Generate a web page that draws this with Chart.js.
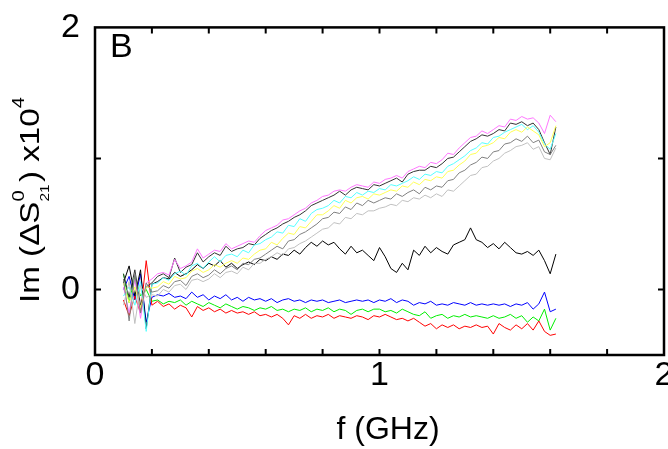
<!DOCTYPE html>
<html>
<head>
<meta charset="utf-8">
<script src="https://cdn.jsdelivr.net/npm/chart.js@4/dist/chart.umd.min.js"></script>
<style>
  html, body { margin: 0; padding: 0; background: #fff; overflow: hidden; }
  #wrap { width: 680px; height: 449px; }
</style>
</head>
<body>
<div id="wrap"><canvas id="chart" width="680" height="449"></canvas></div>
<script>
// frequency axis (GHz)
const freq = [0.10,0.12,0.14,0.16,0.18,0.20,0.22,0.24,0.26,0.28,0.30,0.32,0.34,0.36,0.38,0.40,0.42,0.44,0.46,0.48,
  0.50,0.52,0.54,0.56,0.58,0.60,0.62,0.64,0.66,0.68,0.70,0.72,0.74,0.76,0.78,0.80,0.82,0.84,0.86,0.88,
  0.90,0.92,0.94,0.96,0.98,1.00,1.02,1.04,1.06,1.08,1.10,1.12,1.14,1.16,1.18,1.20,1.22,1.24,1.26,1.28,
  1.30,1.32,1.34,1.36,1.38,1.40,1.42,1.44,1.46,1.48,1.50,1.52,1.54,1.56,1.58,1.60,1.62];

// Im(dS21) x1e4 for each trace
const magenta = [0.02,-0.18,0.08,-0.22,0.05,
  0.08,0.12,0.13,0.11,0.23,0.16,0.18,0.21,0.31,0.24,
  0.27,0.30,0.29,0.35,0.31,0.33,0.35,0.37,0.36,0.41,
  0.45,0.47,0.49,0.53,0.54,0.57,0.60,0.62,0.66,0.68,
  0.71,0.72,0.75,0.76,0.75,0.78,0.80,0.79,0.78,0.82,
  0.81,0.84,0.85,0.87,0.85,0.90,0.92,0.94,0.93,0.97,
  0.96,0.99,1.04,1.03,1.08,1.12,1.16,1.17,1.21,1.19,
  1.22,1.25,1.24,1.30,1.29,1.32,1.30,1.31,1.27,1.19,
  1.33,1.28];
const darkTrace = [0.12,-0.06,0.15,-0.12,0.02,
  0.05,0.10,0.12,0.09,0.24,0.13,0.17,0.19,0.28,0.21,
  0.25,0.28,0.26,0.33,0.29,0.31,0.32,0.35,0.34,0.39,
  0.42,0.45,0.47,0.50,0.52,0.55,0.57,0.60,0.64,0.66,
  0.68,0.70,0.72,0.75,0.72,0.76,0.78,0.77,0.76,0.80,
  0.79,0.81,0.83,0.85,0.82,0.88,0.90,0.91,0.91,0.94,
  0.93,0.96,1.00,1.01,1.05,1.09,1.13,1.15,1.18,1.17,
  1.19,1.22,1.21,1.27,1.26,1.28,1.25,1.27,1.22,1.12,
  1.03,1.24];
const cyan = [-0.05,0.02,-0.12,0.06,-0.32,
  0.04,0.05,0.09,0.07,0.12,0.14,0.11,0.18,0.20,0.16,
  0.21,0.25,0.21,0.26,0.27,0.25,0.30,0.28,0.34,0.35,
  0.38,0.40,0.44,0.43,0.49,0.48,0.54,0.52,0.58,0.61,
  0.62,0.64,0.68,0.66,0.71,0.70,0.74,0.72,0.75,0.74,
  0.77,0.76,0.80,0.79,0.81,0.83,0.86,0.84,0.88,0.87,
  0.90,0.89,0.94,0.96,0.99,1.02,1.06,1.08,1.12,1.11,
  1.16,1.17,1.20,1.22,1.24,1.26,1.22,1.25,1.20,1.11,
  1.07,1.19];
const yellow = [0.05,-0.10,0.02,-0.14,0.02,
  0.01,0.02,0.06,0.04,0.10,0.08,0.09,0.14,0.16,0.13,
  0.15,0.19,0.17,0.20,0.22,0.20,0.24,0.23,0.27,0.30,
  0.31,0.36,0.34,0.39,0.43,0.42,0.48,0.47,0.52,0.57,
  0.57,0.60,0.64,0.62,0.68,0.66,0.70,0.71,0.69,0.73,
  0.72,0.74,0.76,0.75,0.79,0.78,0.82,0.80,0.84,0.83,
  0.86,0.85,0.90,0.91,0.95,0.98,1.03,1.04,1.09,1.10,
  1.12,1.16,1.15,1.20,1.22,1.20,1.24,1.21,1.18,1.09,
  1.12,1.25];
const gray = [0.08,-0.24,0.12,-0.18,0.05,
  -0.02,-0.01,0.03,0.01,0.06,0.07,0.03,0.10,0.12,0.09,
  0.11,0.15,0.12,0.16,0.18,0.15,0.20,0.19,0.23,0.24,
  0.27,0.30,0.33,0.31,0.37,0.38,0.42,0.44,0.47,0.50,
  0.54,0.55,0.59,0.58,0.63,0.61,0.66,0.64,0.68,0.66,
  0.68,0.70,0.69,0.73,0.71,0.74,0.76,0.73,0.78,0.76,
  0.79,0.78,0.83,0.84,0.89,0.91,0.95,0.97,1.01,1.00,
  1.05,1.06,1.11,1.12,1.15,1.13,1.17,1.12,1.14,1.05,
  1.03,1.10];
const lightGray = [-0.12,0.06,-0.26,0.03,-0.06,
  -0.04,-0.05,0.00,-0.02,0.03,0.04,0.00,0.07,0.08,0.06,
  0.08,0.12,0.09,0.13,0.14,0.12,0.17,0.15,0.20,0.20,
  0.23,0.25,0.28,0.26,0.31,0.32,0.35,0.37,0.40,0.43,
  0.46,0.47,0.51,0.50,0.55,0.54,0.58,0.57,0.60,0.60,
  0.62,0.63,0.65,0.64,0.68,0.67,0.70,0.69,0.72,0.70,
  0.73,0.71,0.76,0.75,0.79,0.83,0.87,0.88,0.93,0.94,
  0.98,1.00,1.04,1.06,1.09,1.10,1.12,1.07,1.09,1.00,
  0.99,1.08];
const black = [0.05,0.18,-0.05,0.15,-0.30,
  0.04,0.06,0.09,0.08,0.13,0.10,0.12,0.15,0.19,0.16,
  0.20,0.18,0.22,0.17,0.20,0.16,0.19,0.21,0.19,0.23,
  0.22,0.25,0.23,0.27,0.26,0.30,0.27,0.32,0.36,0.33,
  0.37,0.34,0.36,0.31,0.27,0.33,0.28,0.30,0.26,0.22,
  0.32,0.25,0.16,0.13,0.20,0.15,0.30,0.26,0.33,0.28,
  0.32,0.29,0.27,0.34,0.36,0.38,0.47,0.38,0.36,0.32,
  0.35,0.31,0.36,0.32,0.28,0.27,0.29,0.26,0.30,0.22,
  0.12,0.27];
const blue = [0.00,0.10,-0.08,0.12,-0.25,
  -0.06,-0.04,-0.05,-0.03,-0.06,-0.05,-0.07,-0.02,-0.06,-0.04,
  -0.08,-0.05,-0.07,-0.04,-0.08,-0.06,-0.09,-0.06,-0.08,-0.07,
  -0.09,-0.07,-0.10,-0.08,-0.07,-0.09,-0.08,-0.10,-0.08,-0.09,
  -0.08,-0.10,-0.09,-0.08,-0.10,-0.09,-0.08,-0.09,-0.08,-0.10,
  -0.08,-0.09,-0.07,-0.10,-0.08,-0.09,-0.12,-0.10,-0.11,-0.09,
  -0.12,-0.11,-0.12,-0.10,-0.11,-0.12,-0.10,-0.12,-0.11,-0.12,
  -0.11,-0.12,-0.11,-0.13,-0.11,-0.12,-0.10,-0.15,-0.11,-0.02,
  -0.17,-0.15];
const green = [0.12,-0.10,0.10,-0.05,0.00,
  -0.09,-0.08,-0.11,-0.09,-0.10,-0.08,-0.12,-0.09,-0.11,-0.13,
  -0.10,-0.12,-0.14,-0.11,-0.13,-0.15,-0.13,-0.14,-0.16,-0.14,
  -0.15,-0.13,-0.16,-0.15,-0.17,-0.15,-0.16,-0.14,-0.17,-0.15,
  -0.16,-0.14,-0.17,-0.15,-0.16,-0.19,-0.16,-0.15,-0.17,-0.15,
  -0.15,-0.17,-0.16,-0.18,-0.15,-0.17,-0.19,-0.20,-0.17,-0.22,
  -0.20,-0.19,-0.22,-0.20,-0.21,-0.19,-0.21,-0.20,-0.21,-0.22,
  -0.20,-0.22,-0.21,-0.19,-0.22,-0.20,-0.25,-0.21,-0.24,-0.15,
  -0.31,-0.22];
const red = [-0.08,-0.20,-0.05,-0.18,0.22,
  -0.12,-0.09,-0.13,-0.11,-0.15,-0.12,-0.14,-0.21,-0.13,-0.16,
  -0.14,-0.17,-0.15,-0.18,-0.16,-0.18,-0.17,-0.19,-0.17,-0.20,
  -0.19,-0.21,-0.19,-0.22,-0.27,-0.20,-0.22,-0.19,-0.22,-0.20,
  -0.21,-0.19,-0.22,-0.20,-0.21,-0.22,-0.20,-0.21,-0.23,-0.20,
  -0.21,-0.19,-0.21,-0.23,-0.22,-0.24,-0.22,-0.25,-0.28,-0.26,
  -0.30,-0.27,-0.29,-0.27,-0.30,-0.28,-0.29,-0.27,-0.29,-0.28,
  -0.34,-0.26,-0.29,-0.31,-0.27,-0.30,-0.26,-0.31,-0.24,-0.32,
  -0.35,-0.34];

const xTickLabels = ['0', '1', '2'];
const yTickLabels = ['0', '2'];

const FONT = '"Liberation Sans", Arial, sans-serif';

function series(values, color, width) {
    return {
        data: freq.map((f, i) => ({ x: f, y: values[i] })),
        borderColor: color,
        borderWidth: width || 1,
        pointRadius: 0,
        tension: 0,
        fill: false
    };
}

// 外框、內向刻度、標題
const framePlugin = {
    id: 'frame',
    afterDatasetsDraw(chart) {
        const ctx = chart.ctx;
        const a = chart.chartArea;
        const xs = chart.scales.x;
        const ys = chart.scales.y;
        ctx.save();
        ctx.strokeStyle = '#000';
        ctx.lineWidth = 2.5;
        ctx.strokeRect(a.left, a.top, a.right - a.left, a.bottom - a.top);

        ctx.lineWidth = 2;
        const tl = 6;
        ctx.beginPath();
        xs.ticks.forEach(t => {
            const px = xs.getPixelForValue(t.value);
            if (px <= a.left + 1 || px >= a.right - 1) return;
            ctx.moveTo(px, a.bottom); ctx.lineTo(px, a.bottom - tl);
            ctx.moveTo(px, a.top); ctx.lineTo(px, a.top + tl);
        });
        ys.ticks.forEach(t => {
            const py = ys.getPixelForValue(t.value);
            if (py <= a.top + 1 || py >= a.bottom - 1) return;
            ctx.moveTo(a.left, py); ctx.lineTo(a.left + tl, py);
            ctx.moveTo(a.right, py); ctx.lineTo(a.right - tl, py);
        });
        ctx.stroke();

        ctx.fillStyle = '#000';
        // panel letter
        ctx.font = '34px ' + FONT;
        ctx.textAlign = 'left';
        ctx.textBaseline = 'alphabetic';
        ctx.fillText('B', 110, 57);

        // x title
        ctx.font = '32px ' + FONT;
        ctx.textAlign = 'center';
        ctx.fillText('f (GHz)', 388, 439);

        // y title with super/subscripts
        const main = '28px ' + FONT, sup = '17px ' + FONT, sub = '13px ' + FONT;
        const parts = [
            { t: 'Im (\u0394S', f: main, dy: 0 },
            { t: '0', f: sup, dy: -15, stack: true },
            { t: '21', f: sub, dy: 10 },
            { t: ') x10', f: main, dy: 0, gap: 2 },
            { t: '4', f: sup, dy: -15 }
        ];
        let total = 0;
        const widths = parts.map(p => { ctx.font = p.f; return ctx.measureText(p.t).width; });
        parts.forEach((p, i) => { if (!p.stack) total += widths[i] + (p.gap || 0); });
        const sx = 206 / total;
        ctx.translate(39, 303);
        ctx.rotate(-Math.PI / 2);
        ctx.scale(sx, 1);
        ctx.textAlign = 'left';
        let u = 0;
        parts.forEach((p, i) => {
            ctx.font = p.f;
            u += p.gap || 0;
            ctx.fillText(p.t, u, p.dy);
            if (!p.stack) u += widths[i];
        });
        ctx.restore();
    }
};

Chart.defaults.color = '#000';

new Chart(document.getElementById('chart').getContext('2d'), {
    type: 'line',
    data: {
        datasets: [
            series(lightGray, '#c0c0c0'),
            series(gray, '#808080'),
            series(yellow, '#ffff55'),
            series(cyan, '#55ffff'),
            series(magenta, '#ff77ff'),
            series(darkTrace, '#333333'),
            series(black, '#000000'),
            series(red, '#ff0000'),
            series(green, '#00ee00'),
            series(blue, '#0000ff')
        ]
    },
    options: {
        responsive: false,
        animation: false,
        layout: { padding: { top: 25, right: 16, left: 0, bottom: 0 } },
        plugins: { legend: { display: false }, tooltip: { enabled: false } },
        scales: {
            x: {
                type: 'linear',
                min: 0,
                max: 2,
                afterFit: s => { s.height = 94; },
                grid: { display: false },
                border: { display: false },
                ticks: {
                    stepSize: 0.2,
                    autoSkip: false,
                    maxRotation: 0,
                    padding: -8,
                    font: { size: 34, family: FONT },
                    callback: v => {
                        const r = Math.round(v);
                        return Math.abs(v - r) < 1e-6 ? xTickLabels[r] : '';
                    }
                }
            },
            y: {
                min: -0.5,
                max: 2,
                afterBuildTicks: s => { s.ticks = [0, 1, 2].map(v => ({ value: v })); },
                afterFit: s => { s.width = 95; },
                grid: { display: false },
                border: { display: false },
                ticks: {
                    padding: 7,
                    font: { size: 34, family: FONT },
                    callback: v => (v === 0 ? yTickLabels[0] : v === 2 ? yTickLabels[1] : '')
                }
            }
        }
    },
    plugins: [framePlugin]
});
</script>
</body>
</html>
